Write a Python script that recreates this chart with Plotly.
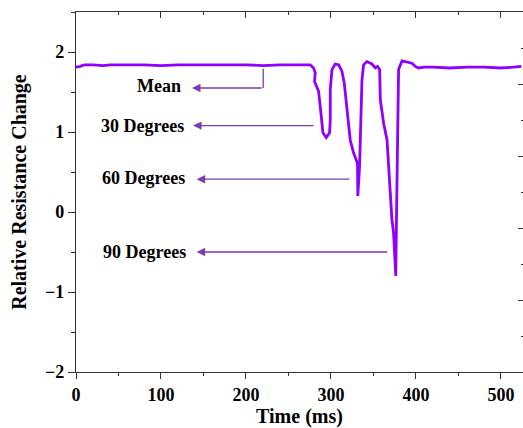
import plotly.graph_objects as go

# Time (ms) and relative resistance change values
time_ms = [0, 5, 10, 20, 32, 40, 60, 80, 100, 120, 140, 160, 180, 200, 220, 240, 260, 275.6,
           279.5, 281.5, 280.7, 285.4, 287.4, 289.4, 290.6, 294.5, 298.4, 299.2, 299.2, 301.2,
           305, 309, 312.9, 315.7, 318.8, 321.5, 322.7, 326.6, 330.5, 331.3, 331.6, 333.7,
           335.3, 336.5, 338.4, 342.3, 348.2, 352.2, 354.9, 357.3, 358.1, 362, 366, 367.9,
           369.8, 371.8, 373.7, 374.5, 376.3, 376.9, 377.7, 377.9, 378.5, 379.6, 383.6,
           389.5, 395.3, 399.3, 403, 410, 420, 440, 460, 480, 500, 515, 524]
resistance = [1.81, 1.82, 1.84, 1.84, 1.83, 1.84, 1.84, 1.84, 1.83, 1.84, 1.84, 1.84, 1.84, 1.84, 1.83, 1.84, 1.84, 1.84,
              1.80, 1.74, 1.63, 1.51, 1.32, 1.15, 0.99, 0.93, 0.99, 1.15, 1.53, 1.78,
              1.85, 1.84, 1.76, 1.61, 1.32, 1.07, 0.90, 0.74, 0.63, 0.58, 0.20, 0.57,
              1.11, 1.65, 1.84, 1.88, 1.85, 1.80, 1.82, 1.78, 1.40, 1.11, 0.90, 0.57,
              0.15, -0.10, -0.26, -0.43, -0.80, -0.26, 0.36, 1.11, 1.53, 1.78, 1.89,
              1.87, 1.86, 1.82, 1.80, 1.81, 1.81, 1.80, 1.81, 1.81, 1.80, 1.81, 1.82]

# Annotation labels with their positions (text centre, arrow tip, arrow tail)
labels = ["Mean", "30 Degrees", "60 Degrees", "90 Degrees"]
label_t = [98, 78, 79, 81]
label_v = [1.57, 1.08, 0.43, -0.50]
arrow_tip_t = [136.6, 137.8, 142, 142]
arrow_tail_t = [220.3, 281.5, 323.5, 368]
arrow_v = [1.55, 1.08, 0.41, -0.50]
mean_elbow_top = 1.79

x_ticks = [0, 100, 200, 300, 400, 500]
y_ticks = [-2, -1, 0, 1, 2]

LINE = "#8F00FF"
ARROW = "#7A3CB0"
AX = "#333333"
FONT = "Liberation Serif"

fig = go.Figure()
fig.add_trace(go.Scatter(x=time_ms, y=resistance, mode="lines",
                         line=dict(color=LINE, width=2.8), showlegend=False, hoverinfo="skip"))
# empty trace so the mirrored (top/right) frame axes get drawn
fig.add_trace(go.Scatter(x=[None], y=[None], xaxis="x2", yaxis="y2", mode="lines",
                         showlegend=False, hoverinfo="skip"))

annotations = []
for lab, lt, lv, tip, tail, av in zip(labels, label_t, label_v, arrow_tip_t, arrow_tail_t, arrow_v):
    annotations.append(dict(x=lt, y=lv, xref="x", yref="y", text="<b>%s</b>" % lab, showarrow=False,
                            font=dict(family=FONT, size=18, color="black")))
    annotations.append(dict(x=tip, y=av, xref="x", yref="y", ax=tail, ay=av, axref="x", ayref="y",
                            text="", showarrow=True, arrowhead=2, arrowsize=1.3, arrowwidth=1.3,
                            arrowcolor=ARROW))

shapes = [dict(type="line", xref="x", yref="y", x0=arrow_tail_t[0], x1=arrow_tail_t[0],
               y0=mean_elbow_top, y1=arrow_v[0], line=dict(color=ARROW, width=1.3))]

tickfont = dict(family=FONT, size=18, color="black", weight="bold")

fig.update_layout(
    width=523, height=428,
    margin=dict(l=76, r=0, t=12, b=56),
    paper_bgcolor="white", plot_bgcolor="white",
    font=dict(family=FONT, color="black"),
    annotations=annotations, shapes=shapes,
    xaxis=dict(range=[0, 526], tickvals=x_ticks, ticks="outside", ticklen=6, tickwidth=1.3,
               tickcolor=AX, showline=True, linecolor=AX, linewidth=1.3, showgrid=False,
               zeroline=False, tickfont=tickfont,
               minor=dict(dtick=50, tick0=0, ticks="outside", ticklen=3, tickcolor=AX, showgrid=False),
               title=dict(text="<b>Time (ms)</b>", font=dict(family=FONT, size=20, color="black"), standoff=2),
               automargin=False),
    yaxis=dict(range=[-2, 2.5], tickvals=y_ticks, ticks="outside", ticklen=7, tickwidth=1.3,
               tickcolor=AX, showline=True, linecolor=AX, linewidth=1.3, showgrid=False,
               zeroline=False, tickfont=tickfont,
               minor=dict(dtick=0.5, tick0=0, ticks="outside", ticklen=4, tickcolor=AX, showgrid=False),
               title=dict(text="<b>Relative Resistance Change</b>", font=dict(family=FONT, size=20, color="black"), standoff=12),
               automargin=False),
    xaxis2=dict(range=[0, 526], overlaying="x", side="top", anchor="y2", ticks="inside", ticklen=6,
                tickwidth=1.3, tickcolor=AX, showline=True, linecolor=AX, linewidth=1.3,
                showgrid=False, zeroline=False, showticklabels=False, dtick=100, tick0=0,
                minor=dict(dtick=50, tick0=0, ticks="inside", ticklen=3, tickcolor=AX, showgrid=False)),
    yaxis2=dict(range=[0, 5], overlaying="y", side="right", anchor="x2", ticks="inside", ticklen=5,
                tickwidth=1.3, tickcolor=AX, showline=False,
                showgrid=False, zeroline=False, showticklabels=False, dtick=1, tick0=0,
                minor=dict(dtick=0.5, tick0=0, ticks="inside", ticklen=2, tickcolor=AX, showgrid=False)),
)

fig.write_html("out.html", config={"displayModeBar": False},
               post_script="document.body.style.margin='0';document.body.style.overflow='hidden';")
